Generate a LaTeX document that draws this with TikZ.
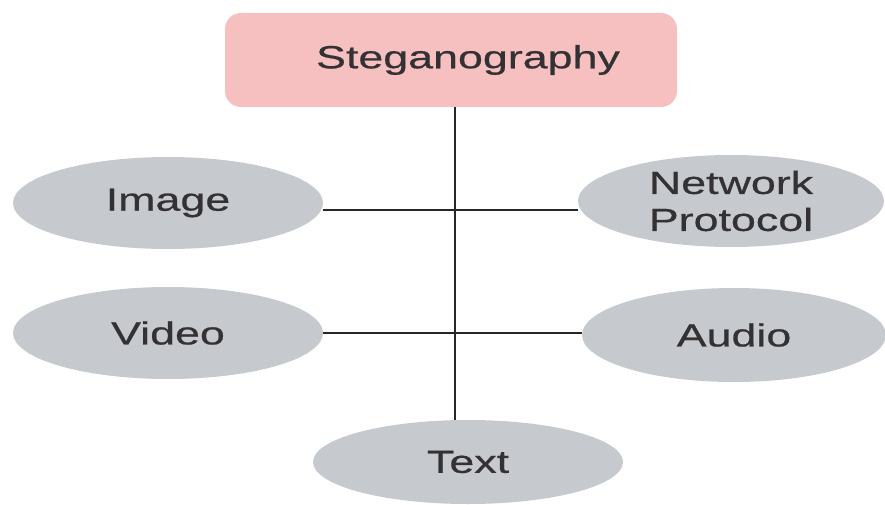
\documentclass[tikz,border=0pt]{standalone}
\usepackage{fontspec}
\setmainfont{Liberation Sans}[FakeStretch=1.40, FakeBold=0.6]
\usetikzlibrary{shapes.geometric}
\definecolor{pinkfill}{HTML}{F6C0C1}
\definecolor{grayfill}{HTML}{C6C9CD}
\definecolor{txtcol}{HTML}{333133}
\begin{document}
\begin{tikzpicture}[x=1pt,y=-1pt,
  lbl/.style={font=\fontsize{32}{37}\selectfont, text=txtcol},
  rootbox/.style={lbl, draw=none, fill=pinkfill, rounded corners=16pt, minimum width=452pt, minimum height=94pt, inner sep=0pt},
  oval/.style={lbl, ellipse, draw=none, fill=grayfill, inner sep=0pt, minimum width=310pt, minimum height=92pt},
  link/.style={draw=black!85, line width=2pt}]
\useasboundingbox (0,0) rectangle (885,505);
\node[rootbox] (root) at (451,60) {\hspace*{34pt}Steganography};
\node[oval] (img) at (168,203) {Image};
\node[oval] (vid) at (168,333) {Video};
\node[oval, minimum width=306pt, inner ysep=-10pt, align=center] (net) at (731,201) {Network\\Protocol};
\node[oval, minimum width=304pt, minimum height=94pt] (aud) at (734,335) {Audio};
\node[oval, minimum width=310pt, minimum height=84pt] (txt) at (468,462) {Text};
\coordinate (s1) at (455,210);
\coordinate (s2) at (455,333);
\draw[link, line width=2.6pt] (root.south -| s1) -- (txt.north -| s1);
\draw[link] (img.east |- s1) -- (net.west |- s1);
\draw[link] (vid.east |- s2) -- (aud.west |- s2);
\end{tikzpicture}
\end{document}
